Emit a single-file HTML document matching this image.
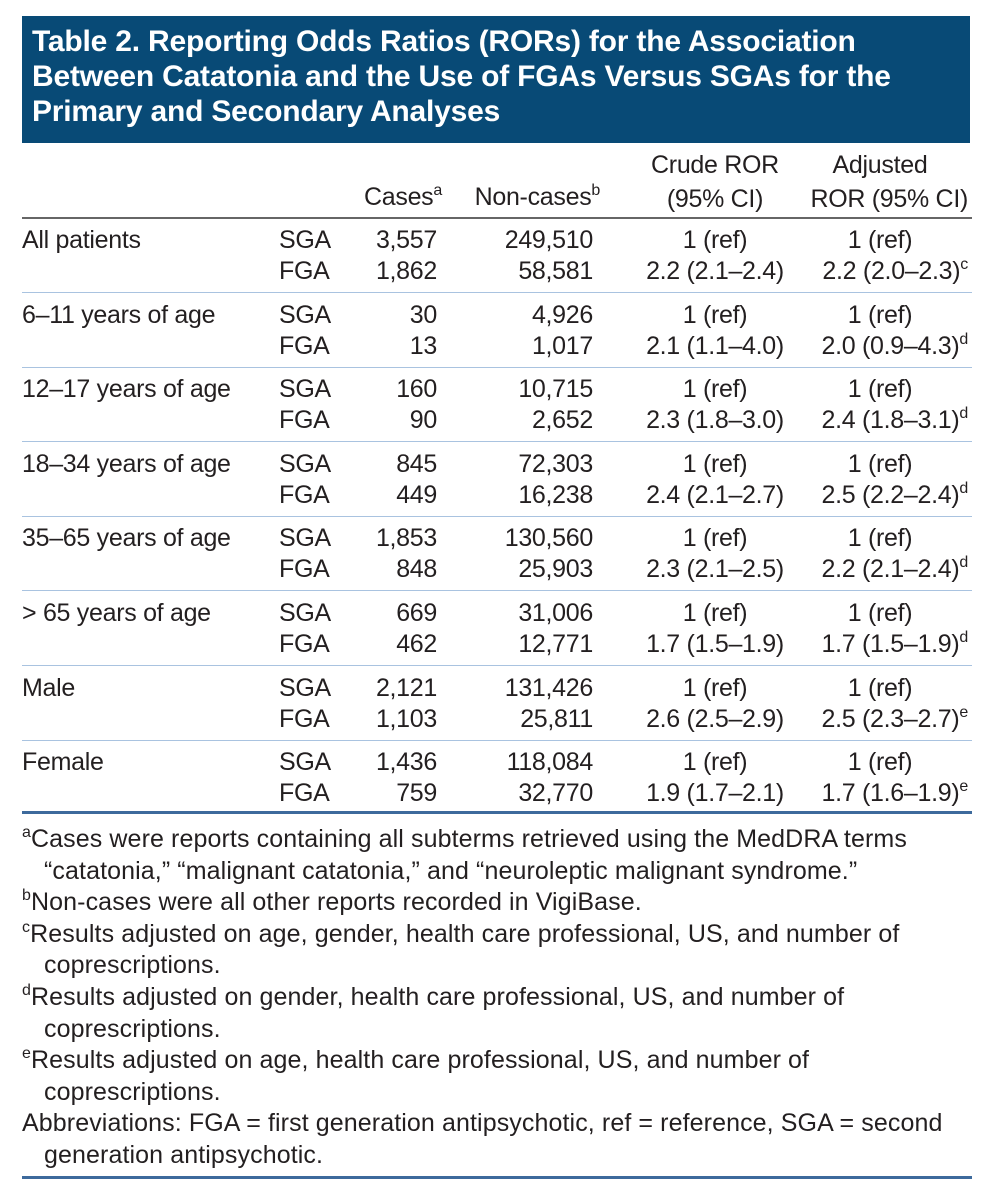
<!DOCTYPE html>
<html><head><meta charset="utf-8"><style>
body{margin:0;width:995px;height:1200px;background:#fff;position:relative;font-family:"Liberation Sans",sans-serif;color:#231f20;overflow:hidden}
.a{position:absolute;white-space:nowrap;font-size:25px;line-height:30px;letter-spacing:-0.3px}
.r{text-align:right}
.c{text-align:center}
sup{font-size:16px;vertical-align:10px;line-height:0}
#hdr{position:absolute;left:22px;top:16px;width:948px;height:127px;background:#084a76}
#hdr div{position:absolute;left:10px;top:8px;color:#fff;font-weight:bold;font-size:30px;line-height:35px;letter-spacing:-0.2px;white-space:nowrap}
.line{position:absolute;left:22px;width:950px}
#foot{position:absolute;left:22px;top:824px;font-size:25px;line-height:31.6px;letter-spacing:0.1px;white-space:nowrap}
#foot .ind{padding-left:22px}
</style></head><body>
<div id="hdr"><div>Table 2. Reporting Odds Ratios (RORs) for the Association<br>Between Catatonia and the Use of FGAs Versus SGAs for the<br>Primary and Secondary Analyses</div></div>
<div class="a c" style="left:630px;width:170px;top:148px;line-height:34px">Crude ROR<br>(95% CI)</div>
<div class="a c" style="left:790px;width:180px;top:148px;line-height:34px">Adjusted</div>
<div class="a r" style="left:760px;width:208px;top:182px;line-height:34px">ROR (95% CI)</div>
<div class="a r" style="left:300px;width:142px;top:182px">Cases<sup>a</sup></div>
<div class="a r" style="left:440px;width:160px;top:182px">Non-cases<sup>b</sup></div>
<div class="line" style="top:217px;height:2px;background:#666"></div>
<div id="rows"></div>
<div class="line" style="top:811px;height:3px;background:#3d6a9c"></div>
<div id="foot">
<div><sup>a</sup>Cases were reports containing all subterms retrieved using the MedDRA terms<div class="ind">“catatonia,” “malignant catatonia,” and “neuroleptic malignant syndrome.”</div></div>
<div><sup>b</sup>Non-cases were all other reports recorded in VigiBase.</div>
<div><sup>c</sup>Results adjusted on age, gender, health care professional, US, and number of<div class="ind">coprescriptions.</div></div>
<div><sup>d</sup>Results adjusted on gender, health care professional, US, and number of<div class="ind">coprescriptions.</div></div>
<div><sup>e</sup>Results adjusted on age, health care professional, US, and number of<div class="ind">coprescriptions.</div></div>
<div>Abbreviations: FGA = first generation antipsychotic, ref = reference, SGA = second<div class="ind">generation antipsychotic.</div></div>
</div>
<div class="line" style="top:1176px;height:3px;background:#3d6a9c"></div>
<script>
const groups=["All patients","6–11 years of age","12–17 years of age","18–34 years of age","35–65 years of age","> 65 years of age","Male","Female"];
const sgaCases=["3,557","30","160","845","1,853","669","2,121","1,436"];
const sgaNon=["249,510","4,926","10,715","72,303","130,560","31,006","131,426","118,084"];
const fgaCases=["1,862","13","90","449","848","462","1,103","759"];
const fgaNon=["58,581","1,017","2,652","16,238","25,903","12,771","25,811","32,770"];
const crude=["2.2 (2.1–2.4)","2.1 (1.1–4.0)","2.3 (1.8–3.0)","2.4 (2.1–2.7)","2.3 (2.1–2.5)","1.7 (1.5–1.9)","2.6 (2.5–2.9)","1.9 (1.7–2.1)"];
const adj=["2.2 (2.0–2.3)","2.0 (0.9–4.3)","2.4 (1.8–3.1)","2.5 (2.2–2.4)","2.2 (2.1–2.4)","1.7 (1.5–1.9)","2.5 (2.3–2.7)","1.7 (1.6–1.9)"];
const notes=["c","d","d","d","d","d","e","e"];
const rows=document.getElementById('rows');
function cell(txt,l,w,t,cls,name){const d=document.createElement('div');d.className='a '+cls;d.style.left=l+'px';d.style.width=w+'px';d.style.top=t+'px';d.innerHTML=txt;


rows.appendChild(d);}
groups.forEach((g,i)=>{const t=225+i*74.6;const t2=t+31;
cell(g,22,260,t,'','group-label');
cell('SGA',279,80,t,'','drug-sga');cell('FGA',279,80,t2,'','drug-fga');
cell(sgaCases[i],340,97,t,'r','cases-sga');cell(fgaCases[i],340,97,t2,'r','cases-fga');
cell(sgaNon[i],450,143,t,'r','noncases-sga');cell(fgaNon[i],450,143,t2,'r','noncases-fga');
cell('1 (ref)',630,170,t,'c','crude-ref');cell(crude[i],630,170,t2,'c','crude-ror');
cell('1 (ref)',790,180,t,'c','adjusted-ref');cell(adj[i]+'<sup>'+notes[i]+'</sup>',760,208,t2,'r','adjusted-ror');
if(i<groups.length-1){const s=document.createElement('div');s.className='line';s.style.top=(292+i*74.6)+'px';s.style.height='1px';s.style.background='#a9c3e0';


rows.appendChild(s);}
});
</script>
</body></html>
